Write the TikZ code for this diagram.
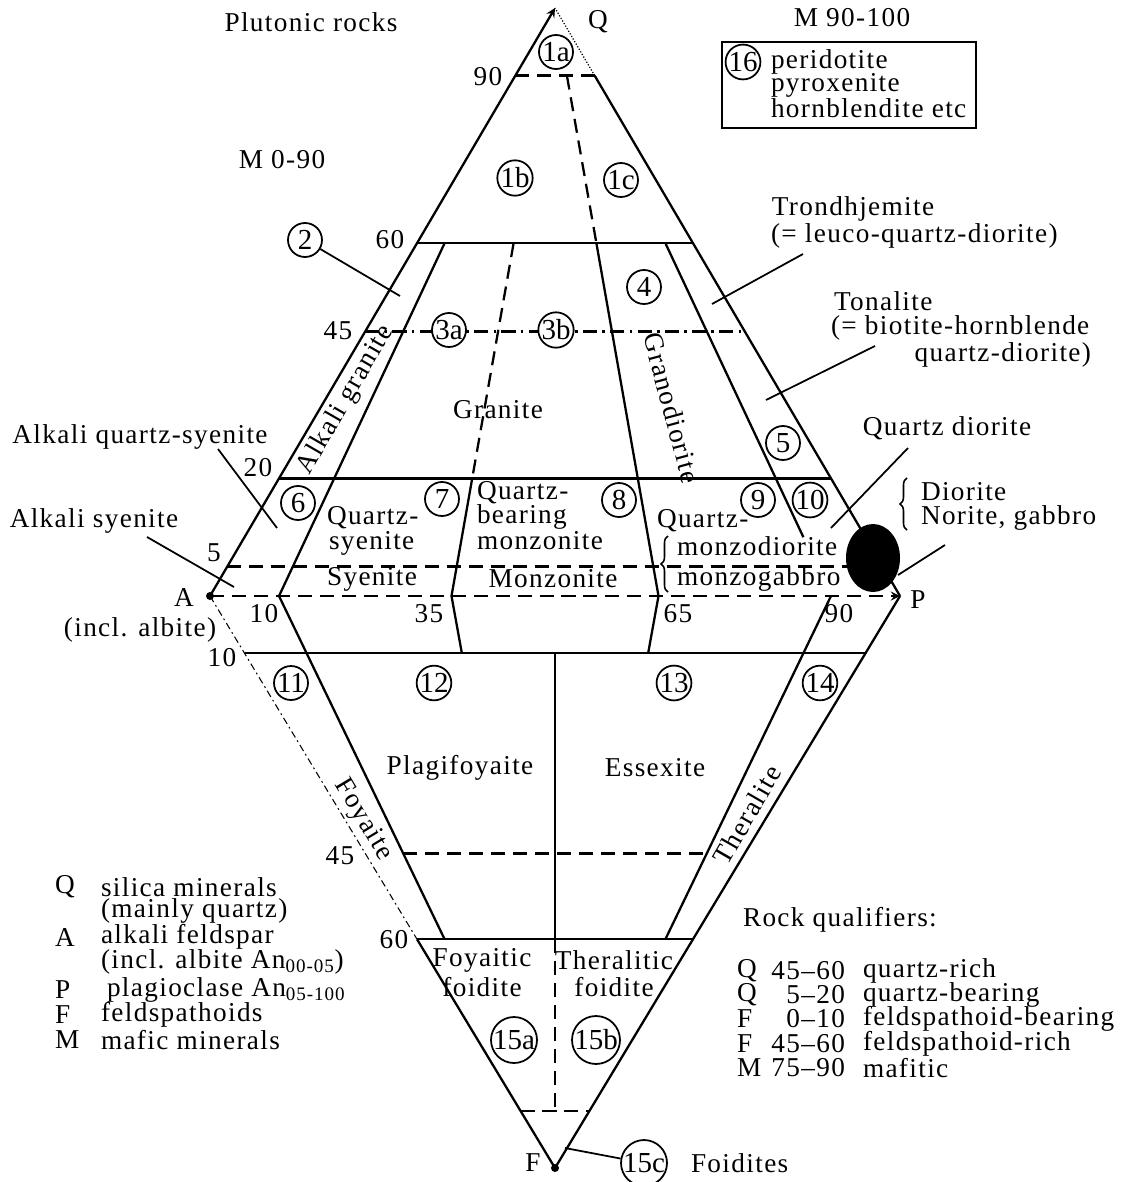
\documentclass[tikz,border=0pt]{standalone}
\usepackage{fontspec}
\setmainfont{Liberation Serif}[LetterSpace=5]
\newfontfamily\fieldfont{Liberation Serif}
\usetikzlibrary{calc,decorations.pathreplacing,positioning,fit}

\tikzset{
	field/.style={draw, circle, fill=white, inner sep=0pt, minimum size=6.8mm, line width=1pt, font=\fieldfont\fontsize{16.5}{17}\selectfont},
	divline/.style={dash pattern=on 8pt off 4.5pt},
	dotdash/.style={dash pattern=on 8pt off 3pt on 1.5pt off 3pt},
	edgeline/.style={line width=0.6pt, dash pattern=on 4pt off 2pt on 1pt off 2pt},
	leader/.style={line width=1pt},
	bracket/.style={decorate, decoration={brace, amplitude=4pt}, line width=0.9pt},
}

\begin{document}
\begin{tikzpicture}[>=stealth, x=0.2mm, y=-0.2mm, line width=1.3pt,
		font=\fontsize{15.5}{18}\selectfont]
	\useasboundingbox (0,0) rectangle (1126,1182);

	% corners of the double triangle
	\coordinate (Q) at (555,8);
	\coordinate (A) at (210,596);
	\coordinate (P) at (900,596);
	\coordinate (F) at (555,1168);

	\coordinate (b10) at ($(A)!0.10!(P)$);
	\coordinate (b35) at ($(A)!0.35!(P)$);
	\coordinate (b50) at ($(A)!0.50!(P)$);
	\coordinate (b65) at ($(A)!0.65!(P)$);
	\coordinate (b90) at ($(A)!0.90!(P)$);

	% upper triangle QAP
	\draw[->] (A) to (Q);
	\draw[] (P) to ($(P)!0.885!(Q)$);
	\draw[densely dotted, line width=0.7pt] ($(P)!0.885!(Q)$) to (Q);
	\draw[divline, ->] (A) to (P);

	\draw[divline] ($(A)!0.885!(Q)$) to ($(P)!0.885!(Q)$);
	\draw[] ($(A)!0.6!(Q)$) to ($(P)!0.6!(Q)$);
	\draw[dotdash] ($(A)!0.45!(Q)$) to ($(P)!0.45!(Q)$);
	\draw[] ($(A)!0.2!(Q)$) to ($(P)!0.2!(Q)$);
	\draw[divline] ($(A)!0.05!(Q)$) to ($(P)!0.05!(Q)$);

	\draw[] (b10) to ($(b10)!0.6!(Q)$);
	\draw[divline] ($(b35)!0.6!(Q)$) to ($(b35)!0.2!(Q)$);
	\draw[] ($(b35)!0.2!(Q)$) to (b35);
	\draw[divline] ($(b65)!0.885!(Q)$) to ($(b65)!0.6!(Q)$);
	\draw[] ($(b65)!0.6!(Q)$) to (b65);
	\draw[] ($(b90)!0.6!(Q)$) to ($(b90)!0.1!(Q)$);

	% lower triangle FAP
	\draw[edgeline] (A) to ($(A)!0.6!(F)$);
	\draw[] ($(A)!0.6!(F)$) to (F);
	\draw[] (P) to (F);

	\draw[] ($(A)!0.1!(F)$) to ($(P)!0.1!(F)$);
	\draw[divline] ($(b10)!0.45!(F)$) to ($(b90)!0.45!(F)$);
	\draw[] ($(A)!0.6!(F)$) to ($(P)!0.6!(F)$);
	\draw[divline] ($(A)!0.9!(F)$) to ($(P)!0.9!(F)$);

	\draw[] (b10) to ($(b10)!0.6!(F)$);
	\draw[] (b90) to ($(b90)!0.6!(F)$);
	\draw[] (b35) to ($(b35)!0.1!(F)$);
	\draw[] (b65) to ($(b65)!0.1!(F)$);
	\draw[] ($(b50)!0.1!(F)$) to ($(b50)!0.6!(F)$);
	\draw[divline] ($(b50)!0.6!(F)$) to ($(b50)!0.9!(F)$);

	\fill (A) circle (4);
	\fill (F) circle (4);
	\fill (873,558) ellipse (27 and 34);

	% corner and scale labels
	\node (lQ) at (598,22) {Q};
	\node (lA) at (184,598) {A};
	\node (lP) at (918,600) {P};
	\node (lF) at (533,1163) {F};
	\node (lalb) at (140,630) {(incl. albite)};

	\node (q90) at (488,77) {90};
	\node (q60) at (390,240) {60};
	\node (q45) at (338,331) {45};
	\node (q20) at (258,468) {20};
	\node (q5) at (214,553) {5};
	\node (p10) at (264,614) {10};
	\node (p35) at (429,614) {35};
	\node (p65) at (678,614) {65};
	\node (p90) at (839,614) {90};
	\node (f10) at (222,658) {10};
	\node (f45) at (340,856) {45};
	\node (f60) at (394,940) {60};

	\node (title) at (311,22) {Plutonic rocks};
	\node (mlow) at (282,160) {M 0-90};
	\node (mhigh) at (852,18) {M 90-100};

	% box for the ultramafic rocks
	\node[field] (n16) at (743,62) {16};
	\node[anchor=west] (ult1) at (764,62) {peridotite};
	\node[anchor=west] (ult2) at (764,85) {pyroxenite};
	\node[anchor=west] (ult3) at (764,108) {hornblendite etc};
	\draw[line width=1.1pt] (722,42) rectangle (976,128);

	% numbered fields
	\node[field] (n1a) at (556,52) {1a};
	\node[field] (n1b) at (515,178) {1b};
	\node[field] (n1c) at (621,180) {1c};
	\node[field] (n2) at (305,240) {2};
	\node[field] (n3a) at (449,330) {3a};
	\node[field] (n3b) at (556,330) {3b};
	\node[field] (n4) at (644,287) {4};
	\node[field] (n5) at (783,443) {5};
	\node[field] (n6) at (298,503) {6};
	\node[field] (n7) at (442,499) {7};
	\node[field] (n8) at (619,500) {8};
	\node[field] (n9) at (758,500) {9};
	\node[field] (n10) at (810,500) {10};
	\node[field] (n11) at (291,683) {11};
	\node[field] (n12) at (434,683) {12};
	\node[field] (n13) at (674,683) {13};
	\node[field] (n14) at (820,683) {14};
	\node[field] (n15a) at (514,1040) {15a};
	\node[field] (n15b) at (596,1040) {15b};
	\node[field] (n15c) at (644,1163) {15c};

	% rock names inside the fields
	\node (granite) at (498,410) {Granite};
	\node[rotate=60] (alkgr) at (346,400) {Alkali granite};
	\node[rotate=-75] (grdio) at (672,408) {Granodiorite};
	\node[anchor=west] (qsy1) at (320,518) {Quartz-};
	\node[anchor=west] (qsy2) at (322,543) {syenite};
	\node (syen) at (372,579) {Syenite};
	\node[anchor=west] (qmz1) at (470,493) {Quartz-};
	\node[anchor=west] (qmz2) at (470,517) {bearing};
	\node[anchor=west] (qmz3) at (470,541) {monzonite};
	\node (monz) at (553,579) {Monzonite};
	\node[anchor=west] (qmd1) at (650,521) {Quartz-};
	\node[anchor=west] (qmd2) at (670,546) {monzodiorite};
	\node[anchor=west] (mgab) at (670,579) {monzogabbro};
	\draw[bracket] (668,592) to (668,536);

	\node (plagi) at (460,768) {Plagifoyaite};
	\node (essex) at (655,768) {Essexite};
	\node[rotate=-59] (foyai) at (363,820) {Foyaite};
	\node[rotate=60] (thera) at (747,815) {Theralite};
	\node (ffoi1) at (482,960) {Foyaitic};
	\node (ffoi2) at (482,987) {foidite};
	\node (tfoi1) at (614,960) {Theralitic};
	\node (tfoi2) at (614,987) {foidite};
	\node[anchor=west] (foids) at (684,1163) {Foidites};

	% names outside with leader lines
	\node (trond1) at (853,209) {Trondhjemite};
	\node[anchor=west] (trond2) at (764,236) {(= leuco-quartz-diorite)};
	\node[anchor=west] (tona1) at (827,301) {Tonalite};
	\node[anchor=west] (tona2) at (824,328) {(= biotite-hornblende};
	\node[anchor=east] (tona3) at (1098,355) {quartz-diorite)};
	\node (qdio) at (947,428) {Quartz diorite};
	\node[anchor=west] (dio1) at (914,492) {Diorite};
	\node[anchor=west] (dio2) at (914,518) {Norite, gabbro};
	\draw[bracket] (907,530) to (907,478);
	\node (aqsy) at (140,437) {Alkali quartz-syenite};
	\node (asy) at (94,521) {Alkali syenite};

	\coordinate (c2) at (400,296);
	\coordinate (ctr1) at (803,254);
	\coordinate (ctr2) at (712,304);
	\coordinate (cto1) at (875,346);
	\coordinate (cto2) at (766,400);
	\coordinate (cqd1) at (908,448);
	\coordinate (cqd2) at (831,528);
	\coordinate (cdi1) at (945,545);
	\coordinate (cdi2) at (898,575);
	\coordinate (caq1) at (218,449);
	\coordinate (caq2) at (277,528);
	\coordinate (cas1) at (147,537);
	\coordinate (cas2) at (234,587);
	\coordinate (c15) at (565,1148);

	\draw[leader] (n2) to (c2);
	\draw[leader] (ctr1) to (ctr2);
	\draw[leader] (cto1) to (cto2);
	\draw[leader] (cqd1) to (cqd2);
	\draw[leader] (cdi1) to (cdi2);
	\draw[leader] (caq1) to (caq2);
	\draw[leader] (cas1) to (cas2);
	\draw[leader] (n15c) to (c15);

	% key to the corners
	\node[anchor=west] (kQ) at (48,887) {Q};
	\node[anchor=west] (kQt) at (94,887) {silica minerals};
	\node[anchor=west] (kQt2) at (94,911) {(mainly quartz)};
	\node[anchor=west] (kA) at (48,937) {A};
	\node[anchor=west] (kAt) at (94,937) {alkali feldspar};
	\node[anchor=west] (kAt2) at (94,962) {(incl. albite An\textsubscript{00-05})};
	\node[anchor=west] (kP) at (48,990) {P};
	\node[anchor=west] (kPt) at (100,990) {plagioclase An\textsubscript{05-100}};
	\node[anchor=west] (kF) at (48,1015) {F};
	\node[anchor=west] (kFt) at (94,1015) {feldspathoids};
	\node[anchor=west] (kM) at (48,1040) {M};
	\node[anchor=west] (kMt) at (94,1040) {mafic minerals};

	% qualifiers
	\node[anchor=west] (qual) at (736,920) {Rock qualifiers:};
	\node[anchor=west] (r1) at (730,971) {Q};
	\node[anchor=east] (r1n) at (852,971) {45--60};
	\node[anchor=west] (r1t) at (856,971) {quartz-rich};
	\node[anchor=west] (r2) at (730,995) {Q};
	\node[anchor=east] (r2n) at (852,995) {5--20};
	\node[anchor=west] (r2t) at (856,995) {quartz-bearing};
	\node[anchor=west] (r3) at (730,1019) {F};
	\node[anchor=east] (r3n) at (852,1019) {0--10};
	\node[anchor=west] (r3t) at (856,1019) {feldspathoid-bearing};
	\node[anchor=west] (r4) at (730,1044) {F};
	\node[anchor=east] (r4n) at (852,1044) {45--60};
	\node[anchor=west] (r4t) at (856,1044) {feldspathoid-rich};
	\node[anchor=west] (r5) at (730,1068) {M};
	\node[anchor=east] (r5n) at (852,1068) {75--90};
	\node[anchor=west] (r5t) at (856,1068) {mafitic};

\end{tikzpicture}
\end{document}
